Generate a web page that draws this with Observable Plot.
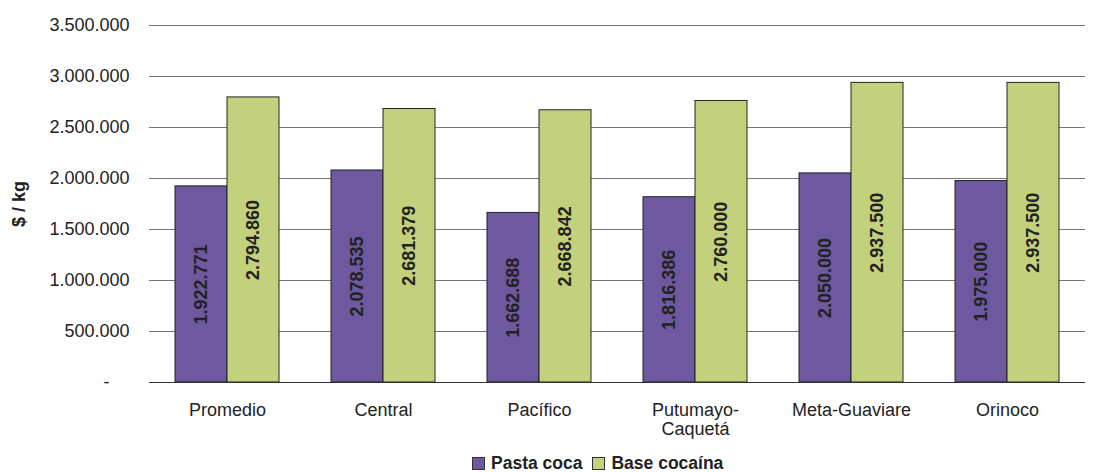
<!DOCTYPE html>
<html>
<head>
<meta charset="utf-8">
<script src="https://cdn.jsdelivr.net/npm/d3@7"></script>
<script src="https://cdn.jsdelivr.net/npm/@observablehq/plot@0.6"></script>
<style>
  body { margin: 0; background: #fff; font-family: "Liberation Sans", Arial, sans-serif; }
  #legend { position: relative; height: 25px; font-weight: bold; font-size: 17.5px; color: #222; }
  #legend .inner { position: absolute; left: 472px; top: 6px; display: flex; align-items: center; white-space: nowrap; }
  #legend .sw { width: 11px; height: 11px; border: 1px solid #333; display: inline-block; margin-right: 6px; }
  #legend .item { display: flex; align-items: center; margin-right: 10px; }
</style>
</head>
<body>
<div id="chart"></div>
<div id="legend"><div class="inner"></div></div>
<script>
const categories = ["Promedio", "Central", "Pacífico", "Putumayo-\nCaquetá", "Meta-Guaviare", "Orinoco"];
const series = ["Pasta coca", "Base cocaína"];
const pastaCoca = [1922771, 2078535, 1662688, 1816386, 2050000, 1975000];
const baseCocaina = [2794860, 2681379, 2668842, 2760000, 2937500, 2937500];
const colors = ["#6E58A0", "#C4D17C"];
const yTicks = [0, 500000, 1000000, 1500000, 2000000, 2500000, 3000000, 3500000];

const data = [];
categories.forEach((c, i) => {
  data.push({category: c, series: series[0], value: pastaCoca[i]});
  data.push({category: c, series: series[1], value: baseCocaina[i]});
});

const fmt = v => d3.format(",")(v).replace(/,/g, ".");
const yFmt = v => v === 0 ? "-\u00a0\u00a0\u00a0\u00a0" : fmt(v);

const chart = Plot.plot({
  width: 1097,
  height: 447,
  marginLeft: 148,
  marginRight: 12,
  marginTop: 25,
  marginBottom: 65,
  style: {fontFamily: "Liberation Sans, Arial, sans-serif", fontSize: "18px", color: "#222", background: "#fff"},
  fx: {domain: categories, padding: 0, label: null},
  x: {domain: series, paddingInner: 0, paddingOuter: 0.5, axis: null},
  y: {domain: [0, 3500000], label: null},
  color: {domain: series, range: colors},
  marks: [
    Plot.gridY(yTicks, {stroke: "#777", strokeOpacity: 1}),
    Plot.axisY(yTicks, {tickSize: 0, tickPadding: 20, tickFormat: yFmt, fontSize: 18, label: "$ / kg", labelArrow: "none", labelAnchor: "center", labelOffset: 137}),
    Plot.axisFx({anchor: "bottom", tickSize: 0, tickPadding: 19, fontSize: 18, label: null, lineHeight: 1.1}),
    Plot.barY(data, {fx: "category", x: "series", y: "value", fill: "series", stroke: "#222", strokeWidth: 1}),
    Plot.text(data, {fx: "category", x: "series", y: d => d.value / 2, text: d => fmt(d.value), rotate: -90, fontWeight: "bold", fontSize: 18, fill: "#222"}),
    Plot.ruleY([0], {stroke: "#333"})
  ]
});
document.getElementById("chart").appendChild(chart);
d3.select(chart).selectAll('[aria-label="y-axis label"] text, [aria-label="y-axis label"]')
  .style("font-weight", "bold")
  .each(function() { if (this.tagName === "text") this.textContent = this.textContent.replace(/\s*[→↑]\s*/g, ""); });

const inner = document.querySelector("#legend .inner");
series.forEach((s, i) => {
  const item = document.createElement("span");
  item.className = "item";
  const sw = document.createElement("span");
  sw.className = "sw";
  sw.style.background = colors[i];
  item.appendChild(sw);
  item.appendChild(document.createTextNode(s));
  inner.appendChild(item);
});
</script>
</body>
</html>
